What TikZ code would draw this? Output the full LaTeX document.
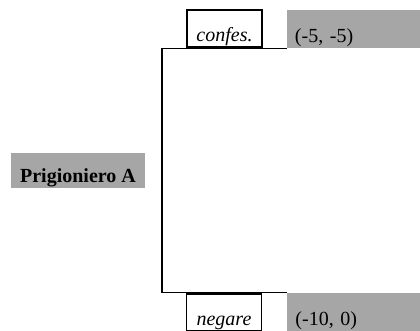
\documentclass[tikz,border=0pt]{standalone}
\usepackage{fontspec}
\setmainfont{Liberation Serif}

\begin{document}
\begin{tikzpicture}[x=0.5pt, y=-0.5pt,
  player/.style={fill=gray!70, font=\bfseries, inner sep=0pt,
    minimum width=67pt, minimum height=17.5pt, text height=12.5pt, text depth=0pt},
  move/.style={draw, line width=0.6pt, font=\itshape, inner sep=0pt,
    minimum width=37.5pt, minimum height=18.5pt, text height=13.5pt, text depth=0pt},
  payoff/.style={fill=gray!70, inner xsep=4pt, inner ysep=0pt, text width=58.5pt,
    minimum height=19pt, text height=14pt, text depth=0pt}]
\useasboundingbox (0,0) rectangle (420,331);

% player and his two moves
\node[player] (pA)   at (78,170.5)  {Prigioniero A};
\node[move]   (conf) at (224.5,28.5) {confes.};
\node[move]   (neg)  at (224,312.5) {negare};

% payoffs
\node[payoff] (pay1) at (353.5,29) {(-5, -5)};
\node[payoff] (pay2) at (354,312)  {(-10, 0)};

\coordinate (fork) at (162,170.5);
\draw[line width=0.6pt] (pay1.south west) -| (fork) |- (pay2.north west);

\end{tikzpicture}
\end{document}
